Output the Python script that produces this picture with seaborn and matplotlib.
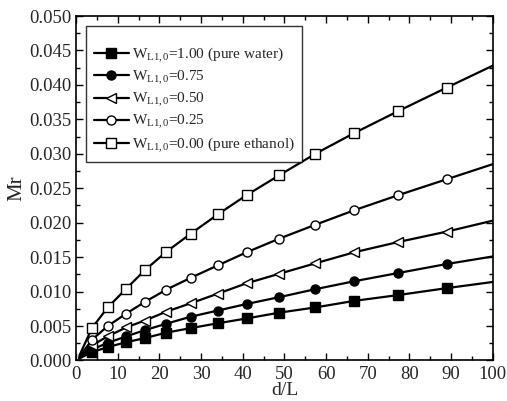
import matplotlib
matplotlib.use("Agg")
import matplotlib.pyplot as plt
from matplotlib.ticker import MultipleLocator, FormatStrFormatter
import numpy as np
import pandas as pd
import seaborn as sns

sns.set_theme(style="ticks")
plt.rcParams['font.family'] = ['Liberation Serif', 'DejaVu Serif']
plt.rcParams['mathtext.fontset'] = 'custom'
plt.rcParams['mathtext.rm'] = 'Liberation Serif'
plt.rcParams['mathtext.it'] = 'Liberation Serif:italic'

# d/L positions of the curves (start, marker points, end)
d_L = [0.8, 3.8, 7.6, 12.0, 16.5, 21.7, 27.5, 34.0, 40.9, 48.8, 57.4, 66.7, 77.3, 88.9, 100.0]

# Mr values (x 1e-3)
mr_100 = [0.3, 1.2, 1.95, 2.65, 3.25, 4.05, 4.7, 5.4, 6.1, 6.95, 7.7, 8.65, 9.5, 10.5, 11.4]
mr_075 = [0.35, 1.6, 2.55, 3.5, 4.4, 5.35, 6.35, 7.25, 8.2, 9.2, 10.35, 11.5, 12.7, 14.0, 15.1]
mr_050 = [0.4, 2.2, 3.5, 4.8, 5.8, 7.1, 8.3, 9.7, 11.2, 12.6, 14.1, 15.7, 17.2, 18.7, 20.3]
mr_025 = [0.5, 3.0, 5.0, 6.8, 8.5, 10.3, 12.0, 13.8, 15.7, 17.7, 19.7, 21.8, 24.0, 26.3, 28.5]
mr_000 = [0.7, 4.7, 7.7, 10.4, 13.1, 15.8, 18.4, 21.2, 24.0, 26.9, 30.0, 33.0, 36.2, 39.6, 42.8]

labels = [r'W$_{\mathrm{L1,0}}$=1.00 (pure water)',
          r'W$_{\mathrm{L1,0}}$=0.75',
          r'W$_{\mathrm{L1,0}}$=0.50',
          r'W$_{\mathrm{L1,0}}$=0.25',
          r'W$_{\mathrm{L1,0}}$=0.00 (pure ethanol)']
series = [mr_100, mr_075, mr_050, mr_025, mr_000]
markers = ['s', 'o', '<', 'o', 's']
faces = ['black', 'black', 'white', 'white', 'white']

fig = plt.figure(figsize=(5.07, 4.01), dpi=100)
ax = fig.add_axes([0.150, 0.101, 0.822, 0.859])

marks = list(range(1, len(d_L) - 1))
for vals, lab, mk, fc in zip(series, labels, markers, faces):
    df = pd.DataFrame({'d/L': d_L, 'Mr': np.array(vals) / 1000.0})
    sns.lineplot(data=df, x='d/L', y='Mr', ax=ax, color='black', lw=1.6,
                 marker=mk, markersize=6.5, markerfacecolor=fc,
                 markeredgecolor='black', markeredgewidth=1.0,
                 markevery=marks, label=lab, sort=False)

ax.set_xlim(0, 100)
ax.set_ylim(0, 0.05)
ax.xaxis.set_major_locator(MultipleLocator(10))
ax.xaxis.set_minor_locator(MultipleLocator(5))
ax.yaxis.set_major_locator(MultipleLocator(0.005))
ax.yaxis.set_minor_locator(MultipleLocator(0.0025))
ax.yaxis.set_major_formatter(FormatStrFormatter('%.3f'))
ax.tick_params(which='both', direction='in', top=True, right=True,
               width=1.0, color='black', labelsize=13.5)
ax.tick_params(axis='x', pad=4)
ax.tick_params(axis='y', pad=3)
ax.tick_params(which='major', length=5)
ax.tick_params(which='minor', length=3)
for sp in ax.spines.values():
    sp.set_linewidth(1.2)
    sp.set_color('black')

ax.set_xlabel('d/L', fontsize=14, labelpad=-1)
ax.set_ylabel('Mr', fontsize=15, labelpad=2)

leg = ax.legend(loc='upper left', bbox_to_anchor=(0.024, 0.972), frameon=True,
                fancybox=False, edgecolor='black', fontsize=11,
                title=' ', title_fontsize=6,
                handlelength=2.3, borderpad=0.5, labelspacing=0.28,
                handletextpad=0.2, borderaxespad=0)
leg.get_frame().set_linewidth(1.0)

fig.savefig('out.png', dpi=100)
